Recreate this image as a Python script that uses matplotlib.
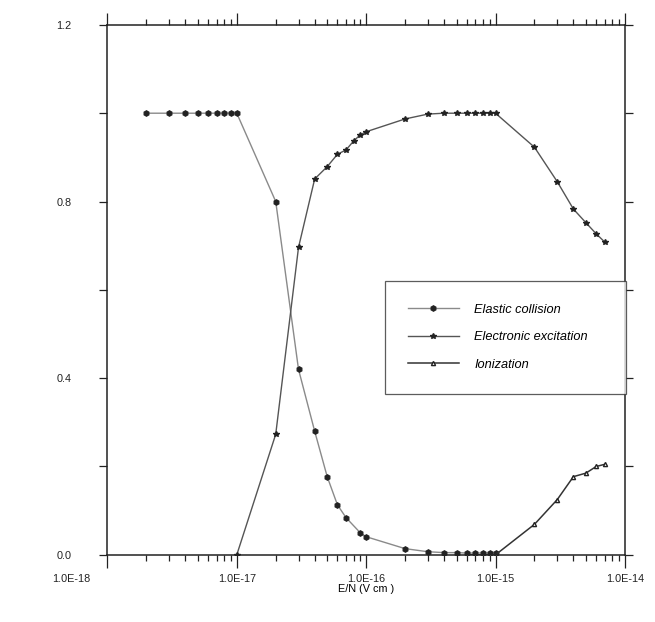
import numpy as np
import matplotlib
matplotlib.use("Agg")
import matplotlib.pyplot as plt
import matplotlib.transforms as mtransforms
from matplotlib.ticker import LogLocator, FixedLocator, NullFormatter

plt.rcParams['font.family'] = ['Liberation Sans', 'DejaVu Sans']

# Reduced field E/N (V cm^2) and fraction of energy in each loss channel
en_elastic = [2e-18, 3e-18, 4e-18, 5e-18, 6e-18, 7e-18, 8e-18, 9e-18, 1e-17,
              2e-17, 3e-17, 4e-17, 5e-17, 6e-17, 7e-17, 9e-17, 1e-16,
              2e-16, 3e-16, 4e-16, 5e-16, 6e-16, 7e-16, 8e-16, 9e-16, 1e-15]
elastic = [1.0, 1.0, 1.0, 1.0, 1.0, 1.0, 1.0, 1.0, 1.0,
           0.80, 0.42, 0.28, 0.177, 0.113, 0.084, 0.050, 0.041,
           0.014, 0.007, 0.005, 0.005, 0.004, 0.004, 0.004, 0.004, 0.004]

en_excitation = [1e-17, 2e-17, 3e-17, 4e-17, 5e-17, 6e-17, 7e-17, 8e-17, 9e-17, 1e-16,
                 2e-16, 3e-16, 4e-16, 5e-16, 6e-16, 7e-16, 8e-16, 9e-16, 1e-15,
                 2e-15, 3e-15, 4e-15, 5e-15, 6e-15, 7e-15]
excitation = [0.0, 0.273, 0.696, 0.851, 0.879, 0.907, 0.917, 0.937, 0.951, 0.958,
              0.987, 0.998, 1.0, 1.0, 1.0, 1.0, 1.0, 1.0, 1.0,
              0.923, 0.845, 0.783, 0.752, 0.727, 0.708]

en_ionization = [6e-16, 7e-16, 8e-16, 9e-16, 1e-15, 2e-15, 3e-15, 4e-15, 5e-15, 6e-15, 7e-15]
ionization = [0.0, 0.0, 0.0, 0.0, 0.0, 0.069, 0.125, 0.177, 0.185, 0.200, 0.205]

x_ticks = [1e-18, 1e-17, 1e-16, 1e-15, 1e-14]
x_ticklabels = ["1.0E-18", "1.0E-17", "1.0E-16", "1.0E-15", "1.0E-14"]
y_ticks = [0.0, 0.4, 0.8, 1.2]
y_ticklabels = ["0.0", "0.4", "0.8", "1.2"]

fig = plt.figure(figsize=(6.55, 6.22), dpi=100)
ax = fig.add_axes([0.164, 0.108, 0.790, 0.852])

ax.plot(en_elastic, elastic, color="#8a8a8a", lw=1.0, marker="h", ms=3.8,
        mfc="#222222", mec="#222222", label="Elastic collision")
ax.plot(en_excitation, excitation, color="#555555", lw=1.0, marker="*", ms=4.2,
        mfc="#222222", mec="#222222", label="Electronic excitation")
ax.plot(en_ionization, ionization, color="#333333", lw=1.1, marker="^", ms=3.0,
        mfc="white", mec="#222222", label="Ionization")

ax.set_xscale("log")
ax.set_xlim(1e-18, 1e-14)
ax.set_ylim(0.0, 1.2)

ax.xaxis.set_major_locator(FixedLocator(x_ticks))
ax.set_xticklabels(x_ticklabels)
ax.xaxis.set_minor_locator(LogLocator(base=10, subs=np.arange(2, 10), numticks=50))
ax.xaxis.set_minor_formatter(NullFormatter())
ax.yaxis.set_major_locator(FixedLocator(y_ticks))
ax.set_yticklabels(y_ticklabels)
ax.yaxis.set_minor_locator(FixedLocator([0.2, 0.6, 1.0]))

ax.tick_params(which="both", direction="out", top=True, right=True,
               labeltop=False, labelright=False, colors="#222222",
               labelsize=7.8, width=0.9)
ax.tick_params(which="major", axis="x", length=9, pad=5)
ax.tick_params(which="minor", axis="x", length=4)
ax.tick_params(which="major", axis="y", length=6, pad=20)
ax.tick_params(which="minor", axis="y", length=6)

# the first decade label sits left of its tick
first = ax.get_xticklabels()[0]
first.set_transform(first.get_transform() +
                    mtransforms.ScaledTranslation(-0.36, 0, fig.dpi_scale_trans))

for s in ax.spines.values():
    s.set_linewidth(1.1)
    s.set_color("#222222")

ax.set_xlabel("E/N (V cm )", fontsize=7.8, labelpad=0)

leg = ax.legend(loc="upper left", bbox_to_anchor=(0.536, 0.517, 0.466, 0.0),
                mode="expand", frameon=True, fancybox=False, edgecolor="#333333",
                prop={"style": "italic", "size": 9.2}, handlelength=4.0,
                handletextpad=1.2, labelspacing=1.2, borderpad=1.8,
                borderaxespad=0)
leg.get_frame().set_linewidth(0.9)

fig.savefig("out.png", dpi=100)
